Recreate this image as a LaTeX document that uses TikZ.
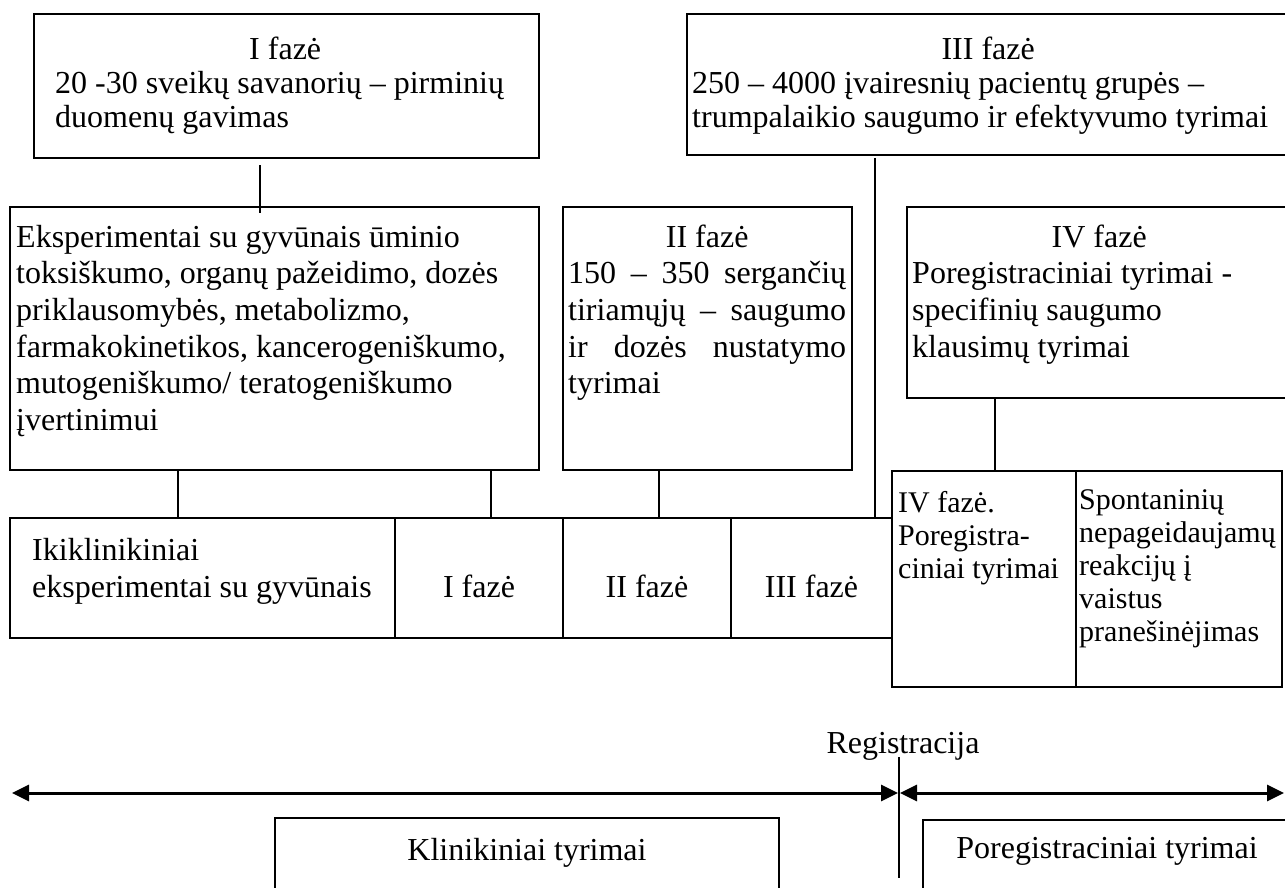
\documentclass[tikz,border=0pt]{standalone}
\usepackage{fontspec}
\setmainfont{Liberation Serif}
\usetikzlibrary{arrows.meta,calc}
\newcommand{\tbx}[3]{\vtop{\hsize=#1\relax\parindent=0pt\parskip=0pt\baselineskip=#2\relax\leftskip=0pt\rightskip=0pt plus 1fil\parfillskip=0pt plus 1fil #3\par}}
\newcommand{\cenline}[1]{\hbox to\hsize{\hfil #1\hfil}}
\newcommand{\jusline}[1]{\hbox to\hsize{#1}}
\tikzset{
  bx/.style={draw, line width=1.4pt, inner sep=0pt, outer sep=0pt, anchor=north west},
  txt/.style={inner sep=0pt, font=\fontsize{32}{36.7}\selectfont, anchor=base west},
  txs/.style={inner sep=0pt, font=\fontsize{30}{33}\selectfont, anchor=base west},
  ln/.style={line width=1.4pt},
  arr/.style={line width=3pt, {Triangle[length=17pt,width=16pt]}-{Triangle[length=17pt,width=16pt]}}
}
\begin{document}
\begin{tikzpicture}[x=1pt,y=1pt]
\useasboundingbox (0,0) rectangle (1285,-888);
% boxes
\node[bx, minimum width=505pt, minimum height=144pt] (i1) at (34,-14) {};
\node[bx, minimum width=601pt, minimum height=141pt] (i3) at (687,-14) {};
\node[bx, minimum width=529pt, minimum height=263pt] (eks) at (10,-207) {};
\node[bx, minimum width=289pt, minimum height=263pt] (ii) at (563,-207) {};
\node[bx, minimum width=381pt, minimum height=191pt] (iv) at (907,-207) {};
\node[bx, minimum width=385pt, minimum height=120pt] (b1) at (10,-518) {};
\node[bx, minimum width=168pt, minimum height=120pt] (b2) at (395,-518) {};
\node[bx, minimum width=168pt, minimum height=120pt] (b3) at (563,-518) {};
\node[bx, minimum width=161pt, minimum height=120pt] (b4) at (731,-518) {};
\node[bx, minimum width=184pt, minimum height=216pt] (c1) at (892,-471) {};
\node[bx, minimum width=206pt, minimum height=216pt] (c2) at (1076,-471) {};
\node[bx, minimum width=504pt, minimum height=80pt] (kl) at (275,-818) {};
\node[bx, minimum width=370pt, minimum height=80pt] (pr) at (923,-820) {};
% texts
\node[txt] (t1) at (55,-60) {\tbx{460pt}{34pt}{\cenline{I fazė}20 -30 sveikų savanorių – pirminių\par duomenų gavimas}};
\node[txt] (t3) at (692,-60) {\tbx{592pt}{34pt}{\cenline{III fazė}250 – 4000 įvairesnių pacientų grupės –\par trumpalaikio saugumo ir efektyvumo tyrimai}};
\node[txt] (teks) at (16,-247) {\tbx{515pt}{36.7pt}{Eksperimentai su gyvūnais ūminio\par toksiškumo, organų pažeidimo, dozės\par priklausomybės, metabolizmo,\par farmakokinetikos, kancerogeniškumo,\par mutogeniškumo/ teratogeniškumo\par įvertinimui}};
\node[txt] (tii) at (568,-247) {\tbx{278pt}{36.7pt}{\cenline{II fazė}\jusline{150 \hfill – \hfill 350 \hfill sergančių}\jusline{tiriamųjų \hfill – \hfill saugumo}\jusline{ir \hfill dozės \hfill nustatymo}tyrimai}};
\node[txt] (tiv) at (912,-247) {\tbx{374pt}{36.7pt}{\cenline{IV fazė}Poregistraciniai tyrimai -\par specifinių saugumo\par klausimų tyrimai}};
\node[txt] (tb1) at (32,-560) {\tbx{360pt}{37pt}{Ikiklinikiniai\par eksperimentai su gyvūnais}};
\node[txt, anchor=base] (tb2) at (b2.center |- 0,-597) {I fazė};
\node[txt, anchor=base] (tb3) at (b3.center |- 0,-597) {II fazė};
\node[txt, anchor=base] (tb4) at (b4.center |- 0,-597) {III fazė};
\node[txs] (tc1) at (898,-512) {\tbx{176pt}{33pt}{IV fazė.\par Poregistra-\par ciniai tyrimai}};
\node[txs] (tc2) at (1079,-509) {\tbx{200pt}{33pt}{Spontaninių\par nepageidaujamų\par reakcijų į\par vaistus\par pranešinėjimas}};
\node[txt, anchor=base] (reg) at (903,-753) {Registracija};
\node[txt, anchor=base] (tkl) at (527,-860) {Klinikiniai tyrimai};
\node[txt, anchor=base] (tpr) at (1107,-858) {Poregistraciniai tyrimai};
% connectors
\draw[ln] ($(260,0 |- i1.south)+(0,-7)$) -- ($(260,0 |- eks.north)+(0,-6)$);
\draw[ln] ($(875,0 |- i3.south)+(0,-3)$) -- (875,0 |- b4.north);
\draw[ln] (178,0 |- eks.south) -- (178,0 |- b1.north);
\draw[ln] (491,0 |- eks.south) -- (491,0 |- b2.north);
\draw[ln] (659,0 |- ii.south) -- (659,0 |- b3.north);
\draw[ln] (995,0 |- iv.south) -- (995,0 |- c1.north);
% time line
\coordinate (aL) at (12,-793);
\coordinate (aM1) at (898,-793);
\coordinate (aM2) at (900,-793);
\coordinate (aR) at (1284,-793);
\coordinate (r1) at (899,-757);
\coordinate (r2) at (899,-878);
\draw[arr] (aL) -- (aM1);
\draw[arr] (aM2) -- (aR);
\draw[ln] (r1) -- (r2);
\end{tikzpicture}
\end{document}
